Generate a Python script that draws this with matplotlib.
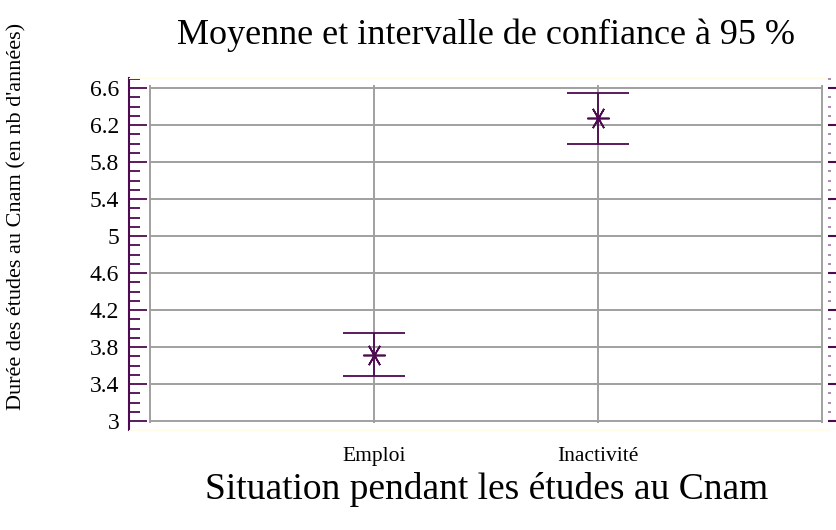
import matplotlib
matplotlib.use("Agg")
import matplotlib.pyplot as plt
from matplotlib.ticker import MultipleLocator

plt.rcParams['font.family'] = ['Liberation Serif', 'DejaVu Serif']

# données
categories = ["Emploi", "Inactivité"]
moyennes = [3.71, 6.28]
bornes_inf = [3.49, 6.00]
bornes_sup = [3.95, 6.55]
y_ticks = [3, 3.4, 3.8, 4.2, 4.6, 5, 5.4, 5.8, 6.2, 6.6]
y_labels = ["3", "3.4", "3.8", "4.2", "4.6", "5", "5.4", "5.8", "6.2", "6.6"]

violet = "#4d0a50"
gris = "#a0a0a0"

fig = plt.figure(figsize=(8.37, 5.30), dpi=100)
ax = fig.add_axes([0.1541, 0.1887, 0.8351, 0.6641])

xpos = [1, 2]
ax.set_xlim(-0.094, 3.027)
ax.set_ylim(2.903, 6.708)

# grille
ax.hlines(y_ticks, 0, 3, color=gris, lw=1.4, zorder=1)
ax.vlines([0, 1, 2, 3], 2.98, 6.63, color=gris, lw=1.4, zorder=1)

# intervalles de confiance
err_bas = [m - b for m, b in zip(moyennes, bornes_inf)]
err_haut = [b - m for m, b in zip(moyennes, bornes_sup)]
ax.errorbar(xpos, moyennes, yerr=[err_bas, err_haut], fmt="none",
            ecolor=violet, elinewidth=1.3, capsize=22, capthick=1.3, zorder=3)
ax.plot(xpos, moyennes, linestyle="none", marker=(6, 2, 90), markersize=16,
        markeredgecolor=violet, markeredgewidth=1.2, color=violet, zorder=4)

# axes
ax.spines["left"].set_color(violet)
ax.spines["left"].set_linewidth(1.5)
ax.spines["right"].set_visible(False)
ax.spines["bottom"].set_color("#fffbe6")
ax.spines["top"].set_color("#fffbe6")

ax.set_yticks(y_ticks)
ax.set_yticklabels(y_labels)
ax.yaxis.set_minor_locator(MultipleLocator(0.1))
ax.tick_params(axis="y", which="major", direction="in", length=13, width=1.3,
               color=violet, labelsize=17, pad=7)
ax.tick_params(axis="y", which="minor", direction="in", length=8, width=1.3,
               color=violet)

# graduations à droite
ax2 = ax.twinx()
ax2.set_ylim(ax.get_ylim())
for s in ax2.spines.values():
    s.set_visible(False)
ax2.set_yticks(y_ticks)
ax2.yaxis.set_minor_locator(MultipleLocator(0.1))
ax2.tick_params(axis="y", which="major", direction="out", length=9, width=1.5,
                color=violet, labelright=False)
ax2.tick_params(axis="y", which="minor", direction="out", length=2.5, width=1.2,
                color="#9a7aa0", pad=0)

ax.set_xticks(xpos)
ax.set_xticklabels(categories)
ax.tick_params(axis="x", length=0, labelsize=15.5, pad=12)

fig.text(0.02, 0.592, "Durée des études au Cnam (en nb d'années)", fontsize=16,
         rotation=90, ha="center", va="center")
fig.text(0.5818, 0.0755, "Situation pendant les études au Cnam", fontsize=27,
         ha="center", va="center")
fig.text(0.5806, 0.934, "Moyenne et intervalle de confiance à 95 %", fontsize=26,
         ha="center", va="center")

fig.savefig("out.png", dpi=100)
